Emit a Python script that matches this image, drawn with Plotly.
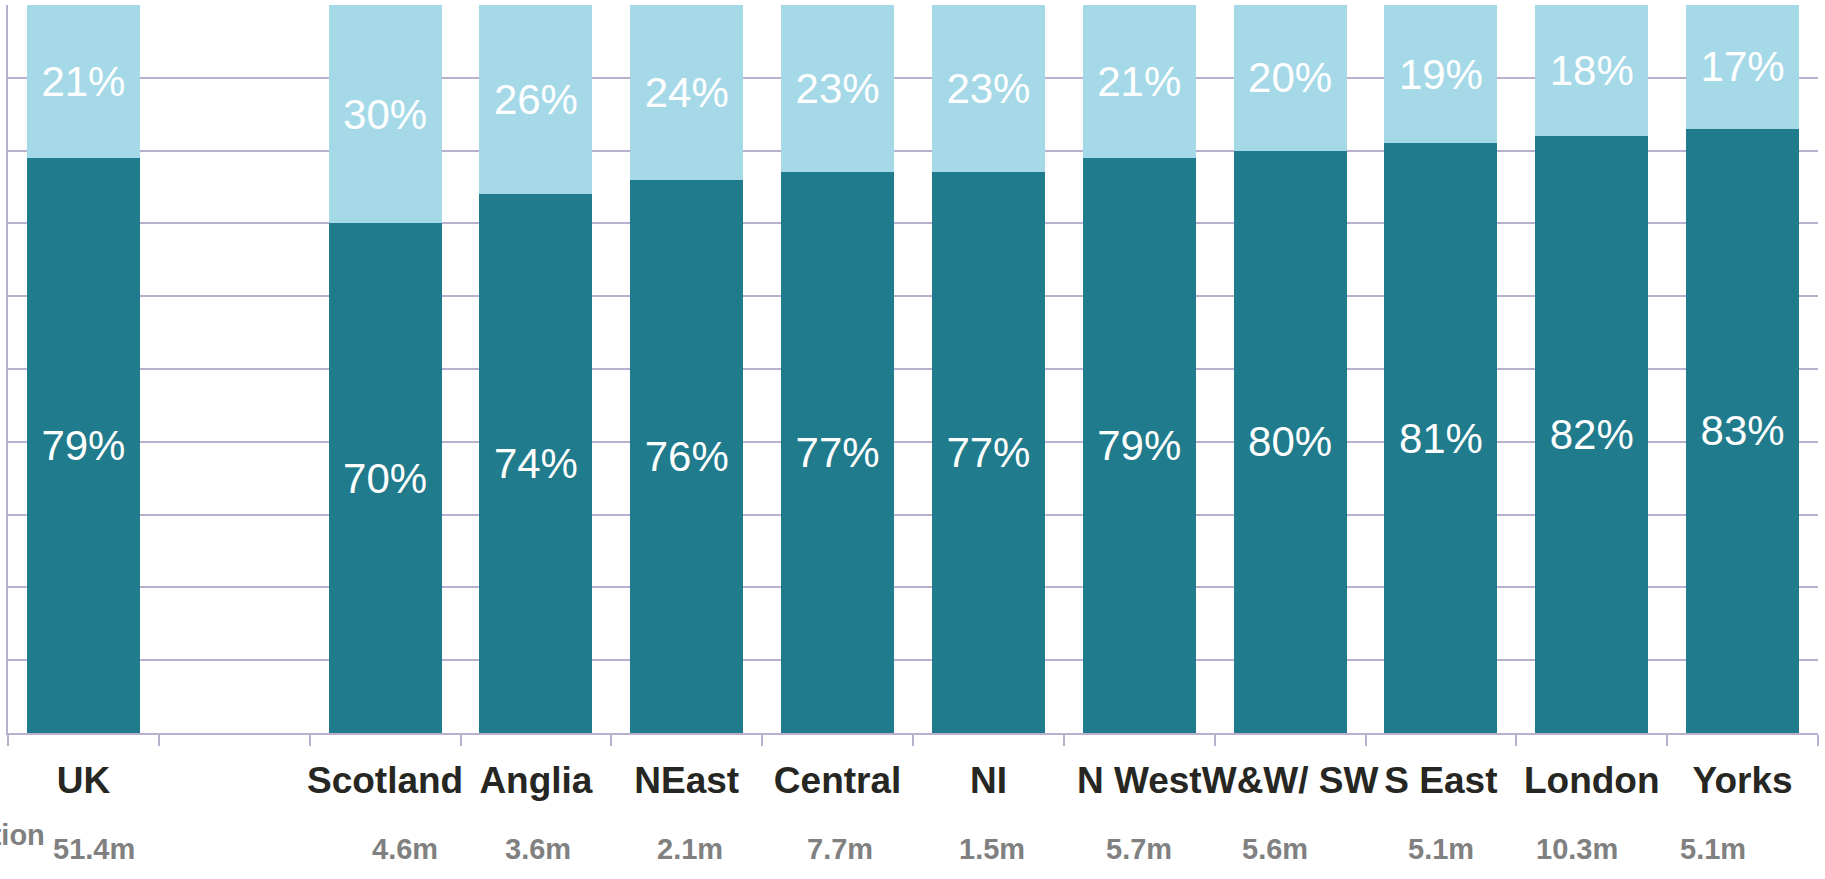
import plotly.graph_objects as go

categories = ["UK", " ", "Scotland", "Anglia", "NEast", "Central", "NI",
              "N West", "W&W/ SW", "S East", "London", "Yorks"]
dark_share = [79, None, 70, 74, 76, 77, 77, 79, 80, 81, 82, 83]
light_share = [21, None, 30, 26, 24, 23, 23, 21, 20, 19, 18, 17]
population = ["51.4m", "", "4.6m", "3.6m", "2.1m", "7.7m", "1.5m",
              "5.7m", "5.6m", "5.1m", "10.3m", "5.1m"]
pop_shift = [11, 0, 20, 2, 3, 2, 4, 0, -15, 0, -15, -30]

DARK = "#207B8C"
LIGHT = "#A5D9E8"
GRID = "#BAB0CE"
FONT = "Liberation Sans, Arial, sans-serif"

def labels(vals):
    return [f"{v}%" if v is not None else "" for v in vals]

fig = go.Figure()
fig.add_trace(go.Bar(
    x=categories, y=dark_share, marker=dict(color=DARK, line=dict(width=0)),
    text=labels(dark_share), textposition="inside", insidetextanchor="middle",
    textangle=0, textfont=dict(family=FONT, size=42, color="white"),
    hoverinfo="skip", name="a"))
fig.add_trace(go.Bar(
    x=categories, y=light_share, marker=dict(color=LIGHT, line=dict(width=0)),
    text=labels(light_share), textposition="inside", insidetextanchor="middle",
    textangle=0, textfont=dict(family=FONT, size=42, color="white"),
    hoverinfo="skip", name="b"))

annotations = []
for c, p, s in zip(categories, population, pop_shift):
    if p:
        annotations.append(dict(x=c, xref="x", y=-0.160, yref="paper", text=f"<b>{p}</b>",
                                showarrow=False, xanchor="center", yanchor="middle", xshift=s,
                                font=dict(family=FONT, size=29, color="#808080")))
annotations.append(dict(x=(47 - 8.5) / 1810, xref="paper", y=-0.140, yref="paper",
                        text="<b>Population</b>", showarrow=False, xanchor="right",
                        yanchor="middle",
                        font=dict(family=FONT, size=29, color="#808080")))

fig.update_layout(
    width=1825, height=879,
    barmode="stack", bargap=0.25,
    showlegend=False,
    plot_bgcolor="white", paper_bgcolor="white",
    margin=dict(l=8, r=7, t=5, b=146, autoexpand=False),
    annotations=annotations,
    xaxis=dict(type="category", categoryorder="array", categoryarray=categories,
               tickson="boundaries", ticks="outside", ticklen=11, tickcolor=GRID, tickwidth=2,
               showline=True, linecolor=GRID, linewidth=2, showgrid=False,
               tickangle=0, automargin=False, ticklabelstandoff=14,
               tickfont=dict(family=FONT, size=37, color="#262622", weight="bold")),
    yaxis=dict(range=[0, 100], dtick=10, showgrid=True, gridcolor=GRID, gridwidth=2,
               showticklabels=False, showline=True, linecolor=GRID, linewidth=2,
               zeroline=False, fixedrange=True, automargin=False),
)

fig.write_html("out.html", config={"displayModeBar": False},
               post_script="document.body.style.margin='0';")
